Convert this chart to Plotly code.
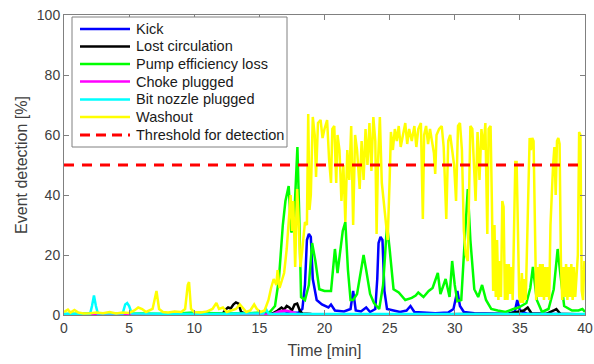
import plotly.graph_objects as go

# ---- data ----
kick_t = [0, 3, 6, 9, 12, 15, 17, 18.0, 18.3, 18.5, 18.65, 18.8, 18.95, 19.1, 19.4, 19.8, 20.3, 20.5, 20.8, 21.5, 22.0, 22.2, 22.4, 22.8,
          23.2, 23.5, 23.9, 24.05, 24.15, 24.3, 24.45, 24.6, 24.8, 25.3, 25.8, 26.3, 26.6, 26.9, 27.5, 28.5, 29.5, 29.9, 30.1, 30.2,
          30.4, 30.7, 31.5, 32.3, 33.0, 34.0, 34.6, 34.8, 35.0, 35.5, 36.5, 37.5, 38.5, 39.5, 40]
kick_v = [0, 0.2, 0.1, 0.2, 0.1, 0.3, 0.5, 0.8, 2, 10, 25, 27, 26, 12, 5, 3.5, 2.5, 3.5, 1.5, 1.2, 2, 8, 1.5, 1.2,
          2.5, 1, 2, 12, 24, 26, 25, 8, 2, 1.5, 1, 1.5, 3, 1, 0.8, 0.6, 0.8, 2, 6, 8,
          3, 1, 0.6, 0.5, 0.4, 0.3, 1, 5, 1.5, 0.5, 0.4, 0.3, 0.3, 0.2, 0.2]

lost_t = [0, 5, 10, 10.8, 11.0, 11.3, 12.2, 12.4, 12.6, 12.8, 13.0, 13.2, 13.4, 13.6, 14, 15, 16.0, 16.4, 16.7, 16.9, 17.1,
          17.3, 17.5, 17.7, 17.9, 18.1, 18.3, 19, 22, 25, 28, 31, 34, 35.3, 35.6, 35.9, 37.0, 37.6, 37.8, 38.1, 39, 40]
lost_v = [0, 0, 0.2, 0.5, 1, 0.3, 0.5, 1.8, 2.5, 2.2, 3.5, 4.2, 3.8, 1, 0.3, 0.2, 0.5, 1.5, 2.5, 1.8, 3,
          2.5, 1.5, 3.5, 3.8, 1.5, 0.5, 0.3, 0.2, 0.3, 0.2, 0.3, 0.3, 1.5, 2.5, 0.5, 0.3, 1.5, 2, 0.4, 0.2, 0.2]

pump_t = [0, 2, 4, 6, 8, 10, 12, 14, 15, 15.8, 16.2, 16.5, 16.8, 17.0, 17.25, 17.45, 17.65, 17.8, 17.92, 18.05, 18.2,
          18.5, 18.8, 19.05, 19.3, 19.6, 20.0, 20.5, 20.8, 21.0, 21.2, 21.4, 21.6, 21.8, 22.0, 22.2, 22.5, 23.0, 23.2,
          23.5, 23.8, 24.2, 24.5, 24.8, 25.0, 25.3, 25.7, 26.2, 26.7, 27.0, 27.2, 27.6, 28.0, 28.3, 28.7, 28.9, 29.3,
          29.6, 29.8, 30.0, 30.2, 30.5, 30.8, 31.0, 31.2, 31.5, 31.8, 32.1, 32.4, 32.8, 33.3, 33.9, 34.5, 34.9, 35.5,
          35.8, 36.0, 36.3, 36.7, 37.2, 37.6, 37.9, 38.1, 38.4, 39.0, 39.5, 39.8, 40]
pump_v = [0.3, 0.5, 0.3, 0.5, 0.3, 0.8, 0.5, 0.5, 0.8, 1, 3, 12, 30, 38, 43, 27.5, 30, 45, 56, 35, 6,
          5, 10, 24, 18, 8.6, 8, 8, 22, 14, 22, 28, 31, 15, 5, 5, 7, 20, 15,
          7, 4, 2, 10, 30, 22, 8.6, 7.5, 5, 5.7, 6.5, 7.5, 6, 8, 9, 14, 7, 12,
          6, 18, 10, 4.6, 5, 27.5, 42, 25, 8.6, 6, 10, 5, 2, 1.5, 1, 2, 2.5, 4,
          9, 16, 5, 1, 2, 8.6, 22, 14, 3, 1.5, 1.5, 2, 1]

choke_t = [0, 8, 8.5, 9, 16.0, 16.5, 17.0, 17.5, 18, 40]
choke_v = [0, 0.2, 1, 0.2, 0.2, 1.2, 1.5, 1, 0.2, 0.2]

bit_t = [0, 2.0, 2.15, 2.3, 2.45, 2.6, 4.5, 4.7, 4.85, 5.0, 5.2, 8, 11, 14, 15.3, 15.5, 15.7, 16, 40]
bit_v = [0.3, 0.3, 3, 6.5, 3, 0.5, 0.5, 3.5, 4, 3, 0.5, 0.3, 0.3, 0.5, 0.5, 2, 0.5, 0.3, 0.3]

wash_t = [0, 0.3, 0.5, 0.8, 1.1, 1.5, 2.0, 2.5, 3.0, 3.5, 4.0, 4.5, 5.0, 5.4, 5.7, 6.0, 6.3, 6.8, 7.0, 7.1, 7.3, 7.6,
          8.0, 8.5, 9.0, 9.3, 9.5, 9.6, 9.75, 10.0, 10.5, 11.0, 11.4, 11.7, 11.9, 12.2, 12.5, 12.8, 13.2, 13.5, 13.7,
          14.0, 14.3, 14.6, 14.8, 15.1, 15.4, 15.7, 15.9, 16.1, 16.3, 16.4, 16.55, 16.7, 16.9, 17.1, 17.3, 17.4, 17.5,
          17.6, 17.75, 17.9, 18.0, 18.15, 18.3, 18.5, 18.65, 18.75, 18.85, 18.95, 19.1, 19.25, 19.35, 19.5, 19.7,
          19.85, 20.0, 20.2, 20.35, 20.5, 20.6, 20.75, 20.9, 21.0, 21.15, 21.3, 21.45, 21.6, 21.75, 21.9, 22.05,
          22.2, 22.35, 22.5, 22.7, 22.85, 23.0, 23.15, 23.3, 23.45, 23.6, 23.75, 23.9, 24.0, 24.1, 24.25, 24.4,
          24.55, 24.7, 24.85, 25.0, 25.1, 25.25, 25.4, 25.55, 25.7, 25.85, 26.0, 26.2, 26.35, 26.5, 26.7, 26.9,
          27.05, 27.2, 27.4, 27.55, 27.65, 27.8, 27.95, 28.1, 28.25, 28.4, 28.5, 28.6, 28.8, 29.0, 29.15, 29.35,
          29.5, 29.65, 29.8, 29.95, 30.1, 30.25, 30.4, 30.55, 30.7, 30.85, 31.0, 31.1, 31.2, 31.35, 31.5, 31.6,
          31.75, 31.9, 32.05, 32.2, 32.35, 32.5, 32.6, 32.75, 32.85, 32.95, 33.05, 33.15, 33.25, 33.35, 33.45,
          33.55, 33.65, 33.75, 33.85, 33.95, 34.05, 34.15, 34.25, 34.35, 34.45, 34.55, 34.65, 34.75, 34.85,
          34.95, 35.05, 35.15, 35.25, 35.35, 35.45, 35.55, 35.65, 35.75, 35.85, 35.95, 36.05, 36.15, 36.25,
          36.35, 36.45, 36.55, 36.65, 36.75, 36.85, 36.95, 37.05, 37.15, 37.25, 37.35, 37.45, 37.55, 37.65,
          37.75, 37.85, 37.95, 38.05, 38.15, 38.25, 38.35, 38.45, 38.55, 38.65, 38.75, 38.85, 38.95, 39.05,
          39.15, 39.25, 39.35, 39.45, 39.55, 39.65, 39.75, 39.85, 39.95, 40.0]
wash_v = [1, 1.8, 0.8, 1.7, 0.8, 0.5, 0.6, 0.8, 0.6, 1.0, 0.5, 0.8, 0.7, 1.5, 2.5, 2.0, 1.0, 2.0, 6, 8, 2, 1,
          0.8, 1.2, 1.0, 2, 10, 11, 2, 1, 0.8, 1.2, 2, 4, 2, 2.5, 1, 1.5, 2, 3.5, 2.5,
          1, 1.5, 3.5, 2, 1, 1.5, 5, 9, 12, 10, 15, 9, 11, 14, 22, 35, 40, 28,
          38, 16, 42, 33, 16, 22, 31, 30, 67, 35, 40, 66, 60, 46, 64, 65,
          59, 62, 65, 52, 44, 62, 63, 44, 60, 55, 38, 50, 31, 55, 45, 63,
          30, 60, 55, 42, 58, 45, 62, 50, 64, 48, 66, 58, 27, 50, 66, 44,
          38, 30, 25, 45, 61, 55, 62, 58, 63, 56, 60, 64, 57, 62, 58, 63,
          56, 62, 64, 32, 60, 63, 57, 62, 58, 54, 47, 60, 62, 63, 56, 32,
          58, 60, 55, 50, 38, 63, 64, 55, 28, 20, 18, 40, 63, 62, 50, 38,
          61, 45, 62, 55, 64, 27, 62, 63, 38, 8, 30, 6, 25, 5, 18,
          6, 38, 36, 5, 17, 5, 17, 7, 16, 5, 30, 51, 51, 20,
          6, 4, 14, 4, 12, 5, 25, 50, 59, 55, 59, 58, 22, 5,
          16, 6, 17, 6, 17, 5, 16, 6, 16, 5, 30, 43, 50, 56,
          40, 58, 59, 57, 18, 5, 16, 6, 17, 5, 16, 6, 17, 5,
          16, 6, 14, 20, 61, 60, 8, 5, 18, 13]

thr_t = [0, 40]
thr_v = [50, 50]

names = ["Kick", "Lost circulation", "Pump efficiency loss", "Choke plugged",
         "Bit nozzle plugged", "Washout", "Threshold for detection"]
colors = ["#0000ff", "#000000", "#00ff00", "#ff00ff", "#00ffff", "#ffff00", "#ff0000"]

# plot-area geometry in pixels (used only to place the hand-built legend box)
PX_L, PX_R, PX_T, PX_B = 64, 585, 15, 315
def px(x):
    return (x - PX_L) / (PX_R - PX_L)
def py(y):
    return (PX_B - y) / (PX_B - PX_T)

fig = go.Figure()
series = [(kick_t, kick_v), (lost_t, lost_v), (pump_t, pump_v), (choke_t, choke_v),
          (bit_t, bit_v), (wash_t, wash_v)]
for (t, v), n, c in zip(series, names[:6], colors[:6]):
    fig.add_trace(go.Scatter(x=t, y=v, mode="lines", name=n,
                             line=dict(color=c, width=2.5)))
fig.add_trace(go.Scatter(x=thr_t, y=thr_v, mode="lines", name=names[6],
                         line=dict(color=colors[6], width=3, dash="10px,8px")))

# legend (MATLAB style: compact box at upper left)
shapes = [dict(type="rect", xref="paper", yref="paper", x0=px(72), x1=px(287), y0=py(147), y1=py(17),
               line=dict(color="#808080", width=1), fillcolor="white", layer="above")]
annotations = []
entry_y = [29, 46.5, 64, 81.5, 99.5, 117, 135]
for i, (n, c) in enumerate(zip(names, colors)):
    yy = py(entry_y[i])
    dash = "10px,6px" if i == 6 else "solid"
    shapes.append(dict(type="line", xref="paper", yref="paper", x0=px(80), x1=px(130), y0=yy, y1=yy,
                       line=dict(color=c, width=3 if i == 6 else 2.5, dash=dash), layer="above"))
    annotations.append(dict(xref="paper", yref="paper", x=px(134), y=yy, xanchor="left", yanchor="middle",
                            text=n, showarrow=False, font=dict(size=14.5, color="#1a1a1a")))

axis_common = dict(showline=True, linecolor="#808080", linewidth=1, mirror="ticks",
                   ticks="inside", ticklen=5, tickcolor="#808080", showgrid=False,
                   zeroline=False, tickfont=dict(size=14, color="#404040"))
fig.update_layout(
    width=594, height=364,
    margin=dict(l=PX_L, r=594 - PX_R, t=PX_T, b=364 - PX_B, autoexpand=False),
    plot_bgcolor="white", paper_bgcolor="white",
    font=dict(family="Liberation Sans, Arial, sans-serif", color="#404040"),
    xaxis=dict(range=[0, 40], tickvals=[0, 5, 10, 15, 20, 25, 30, 35, 40],
               title=dict(text="Time [min]", font=dict(size=16, color="#404040"), standoff=10),
               **axis_common),
    yaxis=dict(range=[0, 100], tickvals=[0, 20, 40, 60, 80, 100],
               title=dict(text="Event detection [%]", font=dict(size=16, color="#404040"), standoff=5),
               **axis_common),
    showlegend=False,
    shapes=shapes,
    annotations=annotations,
)
fig.write_html("out.html")
